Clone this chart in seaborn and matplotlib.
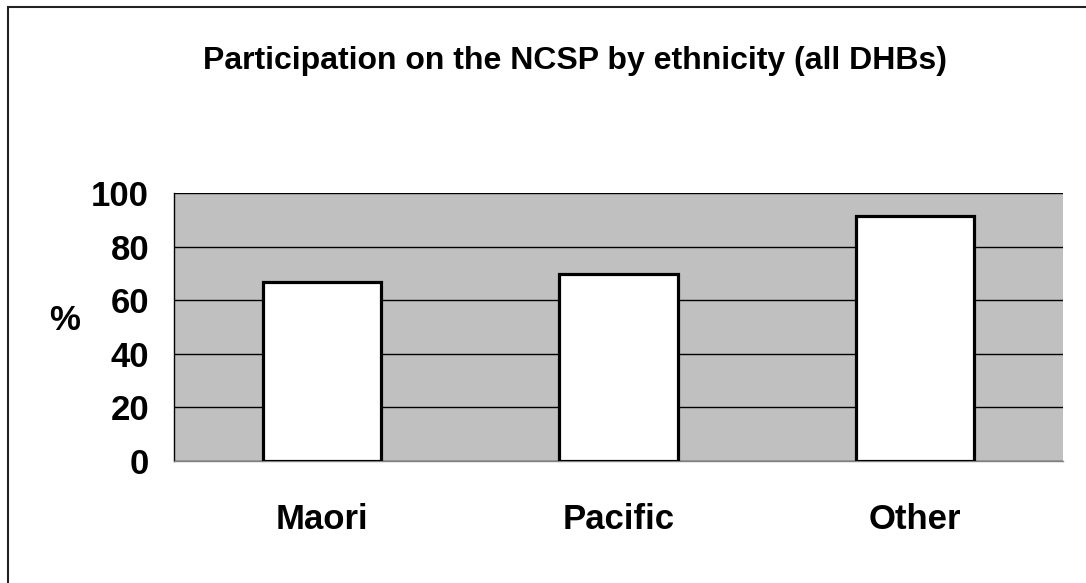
import matplotlib
matplotlib.use("Agg")
import matplotlib.pyplot as plt
import matplotlib.patches as mpatches
import seaborn as sns
import pandas as pd

ethnicity = ["Maori", "Pacific", "Other"]
participation = [66.8, 69.6, 91.5]
y_ticks = [0, 20, 40, 60, 80, 100]

df = pd.DataFrame({"ethnicity": ethnicity, "pct": participation})

sns.set_style("white")
plt.rcParams["font.family"] = ["Liberation Sans", "DejaVu Sans"]
plt.rcParams["font.weight"] = "bold"
plt.rcParams["text.color"] = "black"
plt.rcParams["xtick.color"] = "black"
plt.rcParams["ytick.color"] = "black"

fig = plt.figure(figsize=(10.86, 5.83), dpi=100)
ax = fig.add_axes([174 / 1086, 1 - 461 / 583, 889 / 1086, 268 / 583])

ax.set_facecolor("#c0c0c0")
sns.barplot(data=df, x="ethnicity", y="pct", color="white", edgecolor="black",
            linewidth=2.3, width=0.4, saturation=1, ax=ax, zorder=3)
for p in ax.patches:
    p.set_facecolor("white")

ax.set_ylim(0, 100)
ax.set_xlim(-0.5, 2.5)
ax.set_yticks(y_ticks)
ax.yaxis.grid(True, color="black", linewidth=1)
ax.set_axisbelow(True)
ax.set_xlabel("")
ax.set_ylabel("")

for s in ["top", "right"]:
    ax.spines[s].set_visible(False)
ax.spines["left"].set_color("black")
ax.spines["left"].set_linewidth(1)
ax.spines["bottom"].set_color("#808080")
ax.spines["bottom"].set_linewidth(1)

ax.tick_params(axis="y", direction="out", length=8, width=1, color="black",
               labelcolor="black", pad=10, labelsize=25)
ax.set_xticks([-0.5, 0.5, 1.5, 2.5], minor=True)
ax.tick_params(axis="x", which="minor", direction="out", length=9, width=1,
               color="black")
ax.tick_params(axis="x", which="major", length=0, pad=30, labelsize=25,
               labelcolor="black")
for lbl in ax.get_xticklabels() + ax.get_yticklabels():
    lbl.set_fontweight("bold")

fig.text(575 / 1086, 1 - 69 / 583,
         "Participation on the NCSP by ethnicity (all DHBs)",
         ha="center", va="baseline", fontsize=23, fontweight="bold",
         color="black")
fig.text(65 / 1086, 1 - 320 / 583, "%", ha="center", va="center",
         fontsize=25, fontweight="bold", color="black")

# outer chart border
fig.add_artist(mpatches.Rectangle((8 / 1086, -0.05), 1.1, 1 - 7 / 583 + 0.05,
                                  transform=fig.transFigure, fill=False,
                                  edgecolor="#222222", linewidth=1.5))

fig.savefig("out.png", dpi=100)
